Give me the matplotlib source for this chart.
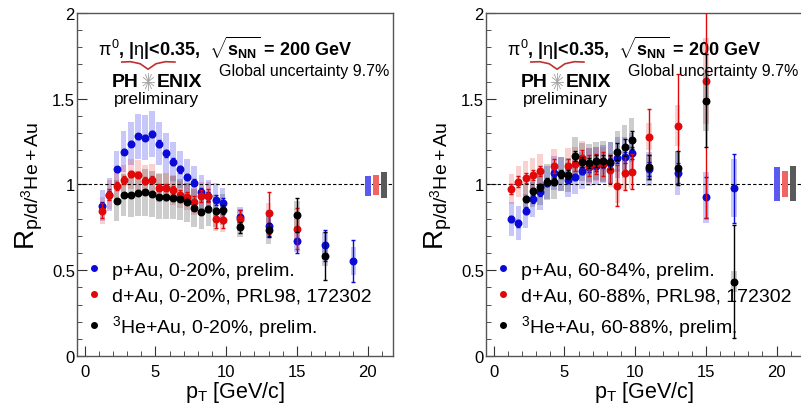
import math

import matplotlib.pyplot as plt
from matplotlib.ticker import MultipleLocator, FormatStrFormatter

plt.rcParams["font.family"] = ["Liberation Sans", "DejaVu Sans"]
plt.rcParams["mathtext.fontset"] = "custom"
plt.rcParams["mathtext.rm"] = "Liberation Sans"
plt.rcParams["mathtext.it"] = "Liberation Sans"
plt.rcParams["mathtext.bf"] = "Liberation Sans:bold"

# ---- central collisions (left panel) ----
pau_c_pt = [1.25, 1.75, 2.25, 2.75, 3.25, 3.75, 4.25, 4.75, 5.25, 5.75, 6.25, 6.75,
            7.25, 7.75, 8.25, 8.75, 9.25, 9.75, 11, 13, 15, 17, 19]
pau_c_val = [0.876, 0.94, 1.088, 1.19, 1.238, 1.281, 1.273, 1.294, 1.238, 1.182, 1.133, 1.088,
             1.044, 1.01, 0.954, 0.93, 0.911, 0.89, 0.81, 0.76, 0.669, 0.645, 0.554]
pau_c_stat = [0.02, 0.02, 0.015, 0.015, 0.015, 0.015, 0.015, 0.02, 0.02, 0.02, 0.02, 0.02,
              0.02, 0.02, 0.025, 0.025, 0.03, 0.03, 0.04, 0.06, 0.07, 0.09, 0.12]
pau_c_sys = [0.09, 0.095, 0.11, 0.12, 0.125, 0.13, 0.13, 0.135, 0.125, 0.12, 0.115, 0.11,
             0.105, 0.1, 0.1, 0.095, 0.095, 0.09, 0.06, 0.07, 0.06, 0.08, 0.08]

dau_c_pt = [1.25, 1.75, 2.25, 2.75, 3.25, 3.75, 4.25, 4.75, 5.25, 5.75, 6.25, 6.75,
            7.25, 7.75, 8.25, 8.75, 9.25, 9.75, 11, 13, 15]
dau_c_val = [0.847, 0.941, 0.991, 1.026, 1.061, 1.055, 1.022, 1.028, 0.98, 0.98, 0.968, 0.941,
             0.929, 0.9, 0.935, 0.935, 0.799, 0.795, 0.799, 0.834, 0.741]
dau_c_stat = [0.045, 0.03, 0.025, 0.025, 0.02, 0.02, 0.02, 0.02, 0.02, 0.02, 0.025, 0.025,
              0.03, 0.03, 0.035, 0.04, 0.05, 0.05, 0.05, 0.12, 0.12]
dau_c_sys = [0.08, 0.085, 0.09, 0.09, 0.09, 0.09, 0.09, 0.09, 0.085, 0.085, 0.085, 0.08,
             0.08, 0.08, 0.08, 0.08, 0.07, 0.07, 0.06, 0.06, 0.06]

heau_c_pt = [2.25, 2.75, 3.25, 3.75, 4.25, 4.75, 5.25, 5.75, 6.25, 6.75,
             7.25, 7.75, 8.25, 8.75, 9.25, 9.75, 11, 13, 15, 17]
heau_c_val = [0.906, 0.939, 0.939, 0.948, 0.954, 0.945, 0.929, 0.929, 0.923, 0.913,
              0.896, 0.865, 0.842, 0.857, 0.845, 0.853, 0.75, 0.735, 0.824, 0.585]
heau_c_stat = [0.01, 0.01, 0.01, 0.01, 0.01, 0.01, 0.01, 0.01, 0.01, 0.012,
               0.012, 0.015, 0.015, 0.02, 0.02, 0.025, 0.03, 0.04, 0.1, 0.14]
heau_c_sys = [0.12, 0.125, 0.13, 0.13, 0.135, 0.135, 0.13, 0.13, 0.125, 0.12,
              0.115, 0.11, 0.1, 0.1, 0.095, 0.09, 0.055, 0.08, 0.08, 0.06]

# ---- peripheral collisions (right panel) ----
pau_p_pt = [1.25, 1.75, 2.25, 2.75, 3.25, 3.75, 4.25, 4.75, 5.25, 5.75, 6.25, 6.75,
            7.25, 7.75, 8.25, 8.75, 9.25, 9.75, 11, 13, 15, 17]
pau_p_val = [0.799, 0.774, 0.847, 0.913, 0.954, 1.01, 1.065, 1.06, 1.028, 1.044, 1.081, 1.1,
             1.106, 1.12, 1.125, 1.155, 1.158, 1.182, 1.09, 1.067, 0.925, 0.978]
pau_p_stat = [0.02, 0.02, 0.02, 0.02, 0.02, 0.02, 0.02, 0.02, 0.02, 0.02, 0.02, 0.025,
              0.025, 0.025, 0.03, 0.03, 0.03, 0.035, 0.04, 0.06, 0.12, 0.2]
pau_p_sys = [0.1, 0.1, 0.1, 0.1, 0.1, 0.1, 0.1, 0.1, 0.1, 0.1, 0.11, 0.11,
             0.11, 0.11, 0.12, 0.12, 0.12, 0.12, 0.1, 0.13, 0.15, 0.17]

dau_p_pt = [1.25, 1.75, 2.25, 2.75, 3.25, 4.25, 5.25, 5.75, 6.25, 6.75,
            7.25, 7.75, 8.25, 8.75, 9.25, 9.75, 11, 13, 15]
dau_p_val = [0.974, 1.017, 1.038, 1.057, 1.079, 1.106, 1.11, 1.118, 1.152, 1.11,
             1.12, 1.12, 1.086, 0.993, 1.065, 1.075, 1.279, 1.343, 1.602]
dau_p_stat = [0.03, 0.03, 0.03, 0.03, 0.03, 0.04, 0.04, 0.04, 0.05, 0.06,
              0.06, 0.07, 0.08, 0.12, 0.1, 0.1, 0.16, 0.3, 0.8]
dau_p_sys = [0.09, 0.09, 0.1, 0.1, 0.1, 0.1, 0.1, 0.1, 0.1, 0.1,
             0.1, 0.1, 0.1, 0.1, 0.1, 0.1, 0.08, 0.12, 0.25]

heau_p_pt = [2.25, 2.75, 3.25, 3.75, 4.25, 4.75, 5.25, 5.75, 6.25, 6.75,
             7.25, 7.75, 8.25, 8.75, 9.25, 9.75, 11, 13, 15, 17]
heau_p_val = [0.915, 0.96, 0.983, 1.017, 1.017, 1.061, 1.057, 1.166, 1.133, 1.124,
              1.135, 1.135, 1.129, 1.191, 1.217, 1.259, 1.1, 1.096, 1.489, 0.433]
heau_p_stat = [0.02, 0.02, 0.02, 0.02, 0.02, 0.025, 0.025, 0.03, 0.03, 0.03,
               0.035, 0.035, 0.04, 0.05, 0.05, 0.05, 0.07, 0.1, 0.27, 0.33]
heau_p_sys = [0.09, 0.09, 0.1, 0.1, 0.1, 0.1, 0.1, 0.11, 0.11, 0.11,
              0.11, 0.12, 0.12, 0.12, 0.13, 0.13, 0.08, 0.1, 0.18, 0.06]

# global normalisation boxes (p+Au, d+Au, 3He+Au)
glob_x = [20.05, 20.6, 21.15]
glob_lo_c = [0.935, 0.94, 0.92]
glob_hi_c = [1.051, 1.055, 1.071]
glob_lo_p = [0.906, 0.925, 0.906]
glob_hi_p = [1.1, 1.08, 1.107]

labels_c = ["p+Au, 0-20%, prelim.", "d+Au, 0-20%, PRL98, 172302",
            r"$^{3}$He+Au, 0-20%, prelim."]
labels_p = ["p+Au, 60-84%, prelim.", "d+Au, 60-88%, PRL98, 172302",
            r"$^{3}$He+Au, 60-88%, prelim."]

point_colors = ["#0a0ad8", "#e00808", "#000000"]
box_colors = ["#2a2ae8", "#e83030", "#303030"]
box_alpha = [0.26, 0.22, 0.24]
glob_colors = ["#5a5af0", "#f06464", "#5a5a5a"]


def draw_series(ax, pt, val, stat, sys, i, label):
    lo = [v - s for v, s in zip(val, sys)]
    ax.bar(pt, [2 * s for s in sys], bottom=lo, width=0.4,
           color=box_colors[i], alpha=box_alpha[i], linewidth=0, zorder=1)
    ax.errorbar(pt, val, yerr=stat, fmt="none", ecolor=point_colors[i],
                elinewidth=1.0, capsize=1.2, zorder=3 + i)
    h, = ax.plot(pt, val, "o", color=point_colors[i], ms=4.7,
                 label=label, zorder=4 + i)
    return h


def draw_logo(ax):
    # red swoosh above the logo
    ax.plot([0.142, 0.17, 0.2, 0.225, 0.25, 0.28, 0.31],
            [0.857, 0.858, 0.852, 0.836, 0.852, 0.858, 0.857],
            color="#c03030", lw=1.2, transform=ax.transAxes, clip_on=False)
    ax.text(0.111, 0.80, "PH", fontsize=14, fontweight="bold",
            ha="left", va="center", transform=ax.transAxes)
    ax.text(0.251, 0.80, "ENIX", fontsize=14, fontweight="bold",
            ha="left", va="center", transform=ax.transAxes)
    # little starburst in place of the O
    cx, cy = 0.226, 0.80
    for k in range(12):
        a = k * math.pi / 6
        ax.plot([cx, cx + 0.019 * math.cos(a)], [cy, cy + 0.024 * math.sin(a)],
                color="#a0a0a0", lw=0.6, transform=ax.transAxes)
    ax.text(0.252, 0.752, "preliminary", fontsize=12.5, ha="center",
            va="center", transform=ax.transAxes)


def setup_axes(ax):
    ax.set_xlim(-0.55, 21.8)
    ax.set_ylim(0, 2)
    ax.xaxis.set_major_locator(MultipleLocator(5))
    ax.xaxis.set_minor_locator(MultipleLocator(1))
    ax.yaxis.set_major_locator(MultipleLocator(0.5))
    ax.yaxis.set_minor_locator(MultipleLocator(0.1))
    ax.yaxis.set_major_formatter(FormatStrFormatter("%g"))
    ax.tick_params(which="both", direction="in", top=False, right=False,
                   labelsize=12, color="#333333")
    ax.tick_params(axis="x", which="major", length=7, pad=6)
    ax.tick_params(axis="y", which="major", length=7, pad=1.5)
    ax.tick_params(which="minor", length=3.5)
    for sp in ax.spines.values():
        sp.set_color("#555555")
        sp.set_linewidth(1.0)
    ax.axhline(1, color="black", lw=0.8, ls=(0, (3, 2)), zorder=2)
    ax.set_xlabel(r"p$_{\mathregular{T}}$ [GeV/c]", fontsize=15.5, labelpad=0)
    ax.set_ylabel(r"R$_{\mathregular{p/d/^{3}He+Au}}$", fontsize=20)
    ax.yaxis.set_label_coords(-0.10, 0.5)
    ax.text(0.068, 0.9,
            r"$\pi^{0}$, |$\eta$|<0.35,  $\sqrt{\mathbf{s_{NN}}}$ = 200 GeV",
            fontsize=13, fontweight="bold", ha="left", va="center",
            transform=ax.transAxes)
    ax.text(0.99, 0.831, "Global uncertainty 9.7%", fontsize=11.5,
            ha="right", va="center", transform=ax.transAxes)
    draw_logo(ax)


fig = plt.figure(figsize=(8.01, 4.10), dpi=100)
ax1 = fig.add_axes([0.0961, 0.1293, 0.3945, 0.8366])
ax2 = fig.add_axes([0.6067, 0.1293, 0.3945, 0.8366])

panels = [
    (ax1, [(pau_c_pt, pau_c_val, pau_c_stat, pau_c_sys),
           (dau_c_pt, dau_c_val, dau_c_stat, dau_c_sys),
           (heau_c_pt, heau_c_val, heau_c_stat, heau_c_sys)],
     labels_c, glob_lo_c, glob_hi_c),
    (ax2, [(pau_p_pt, pau_p_val, pau_p_stat, pau_p_sys),
           (dau_p_pt, dau_p_val, dau_p_stat, dau_p_sys),
           (heau_p_pt, heau_p_val, heau_p_stat, heau_p_sys)],
     labels_p, glob_lo_p, glob_hi_p),
]

for ax, series, labels, glo, ghi in panels:
    setup_axes(ax)
    handles = []
    for i, (pt, val, stat, sys) in enumerate(series):
        handles.append(draw_series(ax, pt, val, stat, sys, i, labels[i]))
    ax.bar(glob_x, [h - l for l, h in zip(glo, ghi)], bottom=glo, width=0.45,
           color=glob_colors, linewidth=0, zorder=2)
    ax.legend(handles=handles, loc="lower left", bbox_to_anchor=(0.023, 0.05),
              frameon=False, fontsize=14, markerscale=0.85, numpoints=1,
              handlelength=1.0, handletextpad=0.45, labelspacing=0.42,
              borderpad=0, borderaxespad=0)

# right frame edge of the second pad falls outside the picture
ax2.spines["right"].set_visible(False)

fig.savefig("out.png", dpi=100)
